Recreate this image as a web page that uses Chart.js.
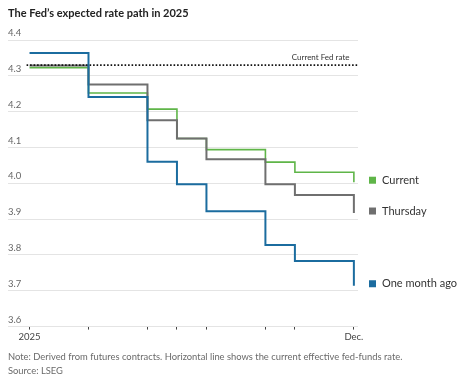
<!DOCTYPE html>
<html lang="en">
<head>
    <meta charset="UTF-8">
    <title>The Fed's expected rate path in 2025</title>
    <script src="https://cdn.jsdelivr.net/npm/chart.js"></script>
    <style>
        body { margin: 0; background: #fff; }
        canvas { display: block; }
    </style>
</head>
<body>
    <canvas id="rateChart" width="474" height="382"></canvas>

    <script>
        // FOMC meeting months (0 = Jan 2025 ... 11 = Dec)
        const months = [0, 2, 4, 5, 6, 8, 9, 11];
        const xLabels = {0: '2025', 11: 'Dec.'};

        // implied rate after each meeting, in percent
        const current  = [4.323, 4.252, 4.207, 4.125, 4.094, 4.059, 4.031, 4.003];
        const thursday = [4.329, 4.276, 4.176, 4.125, 4.067, 3.997, 3.967, 3.917];
        const monthAgo = [4.364, 4.241, 4.060, 3.997, 3.922, 3.828, 3.783, 3.714];

        const fedRate = 4.33;
        const fedRateSpan = [-0.1, 11.14];

        const yMin = 3.6, yMax = 4.4, yStep = 0.1;

        const GREEN = '#5fb548';
        const GRAY = '#6f6f6f';
        const BLUE = '#1b6c9f';
        const FONT = 'Lato, "Liberation Sans", sans-serif';

        const toPoints = vals => months.map((m, i) => ({x: m, y: vals[i]}));

        // labels to the right of each line end, plus the fed rate note
        const endLabels = {
            id: 'endLabels',
            afterDatasetsDraw(chart) {
                const ctx = chart.ctx;
                const y = chart.scales.y;
                const x = chart.scales.x;
                const right = chart.chartArea.right;
                const rows = [
                    ['Current', current, GREEN],
                    ['Thursday', thursday, GRAY],
                    ['One month ago', monthAgo, BLUE]
                ];
                ctx.save();
                ctx.font = '11px ' + FONT;
                ctx.textBaseline = 'middle';
                ctx.textAlign = 'left';
                rows.forEach(([name, vals, color]) => {
                    const py = y.getPixelForValue(vals[vals.length - 1]) - 2;
                    ctx.fillStyle = color;
                    ctx.fillRect(right + 11, py - 3.5, 7, 7);
                    ctx.fillStyle = '#333';
                    ctx.fillText(name, right + 24, py);
                });

                ctx.font = '8px ' + FONT;
                ctx.textAlign = 'right';
                ctx.fillStyle = '#333';
                ctx.fillText('Current Fed rate', x.getPixelForValue(10.85), y.getPixelForValue(fedRate) - 8);
                ctx.restore();
            }
        };

        new Chart(document.getElementById('rateChart'), {
            type: 'line',
            data: {
                datasets: [
                    {
                        label: 'One month ago',
                        data: toPoints(monthAgo),
                        borderColor: BLUE,
                        borderWidth: 2,
                        stepped: true,
                        pointRadius: 0,
                        order: 0
                    },
                    {
                        label: 'Current Fed rate',
                        data: fedRateSpan.map(v => ({x: v, y: fedRate})),
                        borderColor: '#111',
                        borderWidth: 1.8,
                        borderDash: [1.6, 1.9],
                        pointRadius: 0,
                        order: 1
                    },
                    {
                        label: 'Thursday',
                        data: toPoints(thursday),
                        borderColor: GRAY,
                        borderWidth: 2,
                        stepped: true,
                        pointRadius: 0,
                        order: 2
                    },
                    {
                        label: 'Current',
                        data: toPoints(current),
                        borderColor: GREEN,
                        borderWidth: 1.6,
                        stepped: true,
                        pointRadius: 0,
                        order: 3
                    }
                ]
            },
            options: {
                responsive: false,
                animation: false,
                layout: { padding: { left: 8, right: 0, top: 0, bottom: 0 } },
                plugins: {
                    legend: { display: false },
                    tooltip: { enabled: false },
                    title: {
                        display: true,
                        text: 'The Fed\u2019s expected rate path in 2025',
                        align: 'start',
                        color: '#222',
                        font: { family: FONT, size: 11, weight: 'bold', lineHeight: 1.2 },
                        padding: { top: 7, bottom: 19.8 }
                    },
                    subtitle: {
                        display: true,
                        position: 'bottom',
                        align: 'start',
                        text: [
                            'Note: Derived from futures contracts. Horizontal line shows the current effective fed-funds rate.',
                            'Source: LSEG'
                        ],
                        color: '#6a6a6a',
                        font: { family: FONT, size: 9.4, lineHeight: 1.49 },
                        padding: { top: 5, bottom: 4 }
                    }
                },
                scales: {
                    x: {
                        type: 'linear',
                        min: -0.73,
                        max: 11.14,
                        afterBuildTicks: axis => {
                            axis.ticks = months.map(v => ({value: v}));
                        },
                        grid: {
                            drawOnChartArea: false,
                            drawTicks: true,
                            tickLength: 3,
                            tickColor: '#444'
                        },
                        border: { display: false },
                        ticks: {
                            autoSkip: false,
                            maxRotation: 0,
                            padding: 2,
                            color: '#444',
                            font: { family: FONT, size: 9.5 },
                            callback: v => xLabels[v] || ''
                        }
                    },
                    y: {
                        min: yMin,
                        max: yMax,
                        grid: { color: '#e4e4e4', drawTicks: false },
                        border: { display: false },
                        ticks: {
                            stepSize: yStep,
                            mirror: true,
                            padding: 0,
                            labelOffset: -7,
                            color: '#666',
                            font: { family: FONT, size: 9.5 },
                            callback: v => v.toFixed(1)
                        }
                    },
                    // empty right axis that reserves room for the line labels
                    yLabels: {
                        position: 'right',
                        grid: { display: false },
                        border: { display: false },
                        ticks: { display: false },
                        afterFit: scale => { scale.width = 116; }
                    }
                }
            },
            plugins: [endLabels]
        });
    </script>
</body>
</html>
